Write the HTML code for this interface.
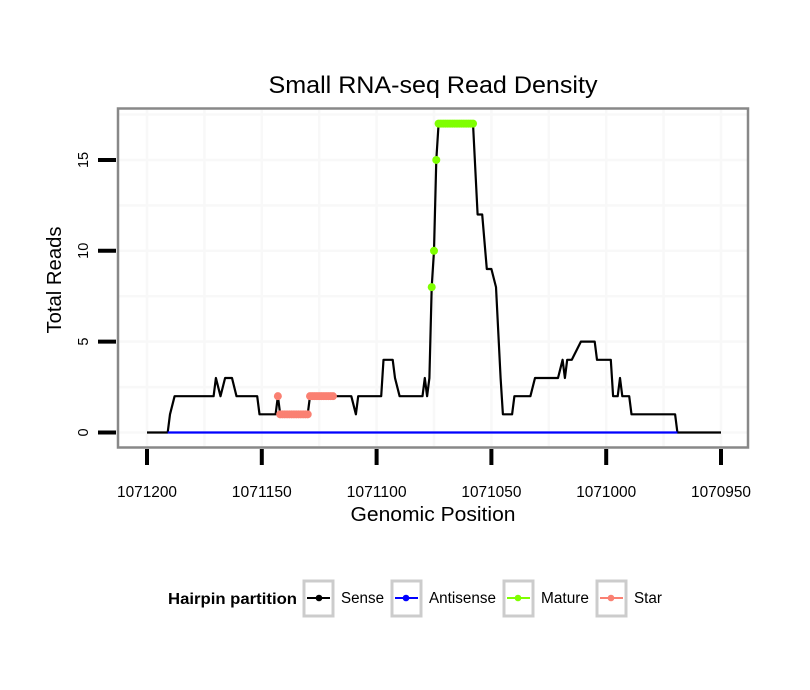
<!DOCTYPE html>
<html><head><meta charset="utf-8"><style>
body{margin:0;background:#fff;}
svg{display:block;font-family:"Liberation Sans",sans-serif;}
</style></head><body>
<svg id="chart" width="810" height="690" xmlns="http://www.w3.org/2000/svg">
<rect width="810" height="690" fill="#fff"/>
<text x="433" y="93" text-anchor="middle" font-size="24" textLength="329" lengthAdjust="spacingAndGlyphs">Small RNA-seq Read Density</text>
<g id="grid"></g>
<g id="series"></g>
<rect x="118" y="108.5" width="630" height="339" fill="none" stroke="#888" stroke-width="2.5"/>
<g id="axes"></g>
<text x="433" y="521" text-anchor="middle" font-size="20" textLength="165" lengthAdjust="spacingAndGlyphs">Genomic Position</text>
<text transform="translate(61,280) rotate(-90)" text-anchor="middle" font-size="20" textLength="107" lengthAdjust="spacingAndGlyphs">Total Reads</text>
<g>
<text x="168" y="604" font-size="16" font-weight="bold" textLength="129" lengthAdjust="spacingAndGlyphs">Hairpin partition</text>
<g><rect x="304" y="581" width="29" height="35" fill="#fff" stroke="#ccc" stroke-width="3"/><line x1="307" x2="330" y1="598" y2="598" stroke="#000" stroke-width="2"/><circle cx="319" cy="598" r="3.3" fill="#000"/><text x="341" y="603" font-size="15.5" textLength="43" lengthAdjust="spacingAndGlyphs">Sense</text></g>
<g><rect x="392" y="581" width="29" height="35" fill="#fff" stroke="#ccc" stroke-width="3"/><line x1="395" x2="418" y1="598" y2="598" stroke="#00f" stroke-width="2"/><circle cx="406" cy="598" r="3.3" fill="#00f"/><text x="429" y="603" font-size="15.5" textLength="67" lengthAdjust="spacingAndGlyphs">Antisense</text></g>
<g><rect x="504" y="581" width="29" height="35" fill="#fff" stroke="#ccc" stroke-width="3"/><line x1="507" x2="530" y1="598" y2="598" stroke="#7fff00" stroke-width="2"/><circle cx="518" cy="598" r="3.3" fill="#7fff00"/><text x="541" y="603" font-size="15.5" textLength="48" lengthAdjust="spacingAndGlyphs">Mature</text></g>
<g><rect x="597" y="581" width="29" height="35" fill="#fff" stroke="#ccc" stroke-width="3"/><line x1="600" x2="623" y1="598" y2="598" stroke="#fa8072" stroke-width="2"/><circle cx="611" cy="598" r="3.3" fill="#fa8072"/><text x="634" y="603" font-size="15.5" textLength="28" lengthAdjust="spacingAndGlyphs">Star</text></g>
</g>
</svg>
<script>
const xTicks=[1071200,1071150,1071100,1071050,1071000,1070950];
const yTicks=[0,5,10,15];
const sensePos=[1071200,1071191,1071190,1071188,1071171,1071170,1071168,1071166,1071163,1071161,1071152,1071151,1071144,1071143,1071142,1071130,1071129,1071111,1071109,1071108,1071098,1071097,1071093,1071092,1071090,1071080,1071079,1071078,1071077,1071076,1071075,1071074,1071073,1071058,1071056,1071054,1071052,1071050,1071048,1071046,1071045,1071041,1071040,1071033,1071031,1071021,1071019,1071018,1071017,1071015,1071011,1071005,1071004,1070998,1070997,1070995,1070994,1070993,1070990,1070989,1070970,1070969,1070950];
const senseVal=[0,0,1,2,2,3,2,3,3,2,2,1,1,2,1,1,2,2,1,2,2,4,4,3,2,2,3,2,3,8,10,15,17,17,12,12,9,9,8,3,1,1,2,2,3,3,4,3,4,4,5,5,4,4,2,2,3,2,2,1,1,0,0];
const antiPos=[1071191,1070969];
const antiVal=[0,0];
const maturePos=[1071076,1071075,1071074,1071073,1071072,1071071,1071070,1071069,1071068,1071067,1071066,1071065,1071064,1071063,1071062,1071061,1071060,1071059,1071058];
const matureVal=[8,10,15,17,17,17,17,17,17,17,17,17,17,17,17,17,17,17,17];
const starPos=[1071143,1071142,1071141,1071140,1071139,1071138,1071137,1071136,1071135,1071134,1071133,1071132,1071131,1071130,1071129,1071128,1071127,1071126,1071125,1071124,1071123,1071122,1071121,1071120,1071119];
const starVal=[2,1,1,1,1,1,1,1,1,1,1,1,1,1,2,2,2,2,2,2,2,2,2,2,2];

const NS='http://www.w3.org/2000/svg';
const X=p=>147+(1071200-p)*2.296;
const Y=v=>432.5-v*18.17;
function mk(tag,attrs,parent){const e=document.createElementNS(NS,tag);for(const k in attrs)e.setAttribute(k,attrs[k]);parent.appendChild(e);return e;}
const grid=document.getElementById('grid'),axes=document.getElementById('axes'),series=document.getElementById('series');
for(let v=0;v<=17.5;v+=2.5){const l=mk('line',{x1:119,x2:747,y1:Y(v),y2:Y(v),stroke:'#f8f8f8','stroke-width':2.5},grid);

}
for(let p=1071225;p>=1070925;p-=25){const x=X(p);if(x<119||x>747)continue;const l=mk('line',{x1:x,x2:x,y1:110,y2:446,stroke:'#f8f8f8','stroke-width':2.5},grid);

}
xTicks.forEach(p=>{const t=mk('line',{x1:X(p),x2:X(p),y1:449,y2:465,stroke:'#000','stroke-width':4},axes);


const s=mk('text',{x:X(p),y:497,'text-anchor':'middle','font-size':15.5,textLength:60,lengthAdjust:'spacingAndGlyphs'},axes);s.textContent=p;

});
yTicks.forEach(v=>{const t=mk('line',{x1:98,x2:116,y1:Y(v),y2:Y(v),stroke:'#000','stroke-width':4},axes);


const s=mk('text',{transform:`translate(88,${Y(v)}) rotate(-90)`,'text-anchor':'middle','font-size':14.5},axes);s.textContent=v;

});
function line(P,V,color,name){const d=P.map((p,i)=>(i?'L':'M')+X(p).toFixed(1)+','+Y(V[i]).toFixed(1)).join('');
const e=mk('path',{d:d,fill:'none',stroke:color,'stroke-width':2.2,'stroke-linejoin':'round'},series);

}
function pts(P,V,color,name){P.forEach((p,i)=>{const c=mk('circle',{cx:X(p),cy:Y(V[i]),r:4,fill:color},series);

});}
line(sensePos,senseVal,'#000','sense-line');
line(antiPos,antiVal,'#00f','antisense-line');
pts(maturePos,matureVal,'#7fff00','mature-point');
pts(starPos,starVal,'#fa8072','star-point');
</script>
</body></html>
